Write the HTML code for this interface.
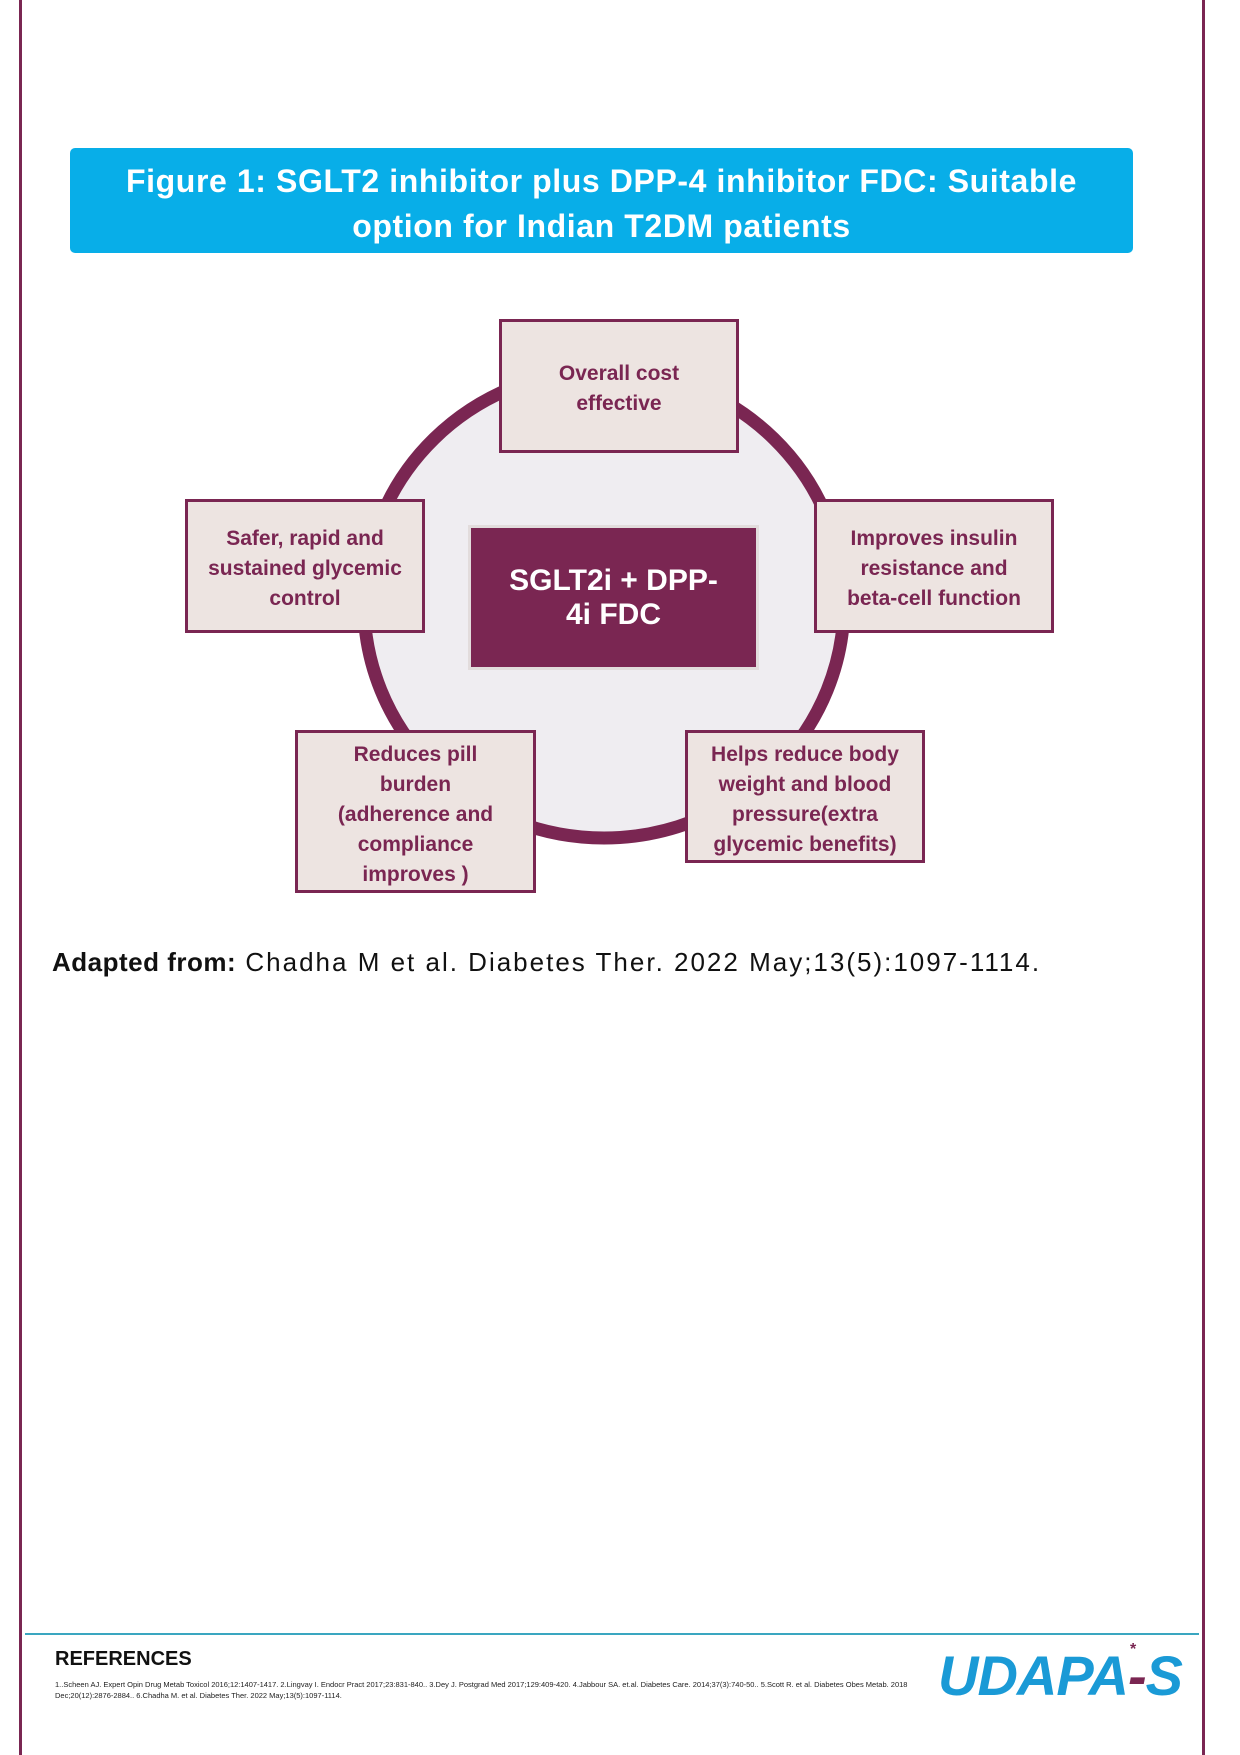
<!DOCTYPE html>
<html><head><meta charset="utf-8"><style>
body{margin:0;width:1240px;height:1755px;position:relative;background:#fff;font-family:"Liberation Sans",sans-serif;overflow:hidden}
.ab{position:absolute}
.box{position:absolute;box-sizing:border-box;background:#ede4e1;border:3px solid #7a2652;color:#7a2652;font-weight:bold;font-size:21px;line-height:30px;display:flex;align-items:center;justify-content:center;text-align:center;padding-top:6px}
</style></head><body>
<div class="ab" style="left:19px;top:0;width:3px;height:1755px;background:#7a2652"></div>
<div class="ab" style="left:1202px;top:0;width:3px;height:1755px;background:#7a2652"></div>
<div class="ab" style="left:70px;top:148px;width:1063px;height:105px;background:#08aee8;border-radius:5px;color:#fff;font-weight:bold;font-size:32px;line-height:45px;letter-spacing:0.6px;text-align:center;display:flex;align-items:center;justify-content:center;padding-top:6px;box-sizing:border-box">Figure 1: SGLT2 inhibitor plus DPP-4 inhibitor FDC: Suitable<br>option for Indian T2DM patients</div>
<svg class="ab" style="left:0;top:0" width="1240" height="1000"><ellipse cx="604" cy="604" rx="240" ry="234" fill="#efedf1" stroke="#7a2652" stroke-width="13"/></svg>
<div class="box" style="left:499px;top:319px;width:240px;height:134px">Overall cost<br>effective</div>
<div class="box" style="left:185px;top:499px;width:240px;height:134px">Safer, rapid and<br>sustained glycemic<br>control</div>
<div class="box" style="left:814px;top:499px;width:240px;height:134px">Improves insulin<br>resistance and<br>beta-cell function</div>
<div class="box" style="left:295px;top:730px;width:241px;height:163px">Reduces pill<br>burden<br>(adherence and<br>compliance<br>improves )</div>
<div class="box" style="left:685px;top:730px;width:240px;height:133px">Helps reduce body<br>weight and blood<br>pressure(extra<br>glycemic benefits)</div>
<div class="ab" style="left:468px;top:525px;width:291px;height:145px;box-sizing:border-box;border:3px solid #e2dcdc;background:#7a2652;color:#fff;font-weight:bold;font-size:30px;line-height:34px;display:flex;align-items:center;justify-content:center;text-align:center">SGLT2i + DPP-<br>4i FDC</div>
<div class="ab" style="left:52px;top:947px;font-size:26px;color:#111;white-space:nowrap;letter-spacing:2px"><b style="letter-spacing:0.5px">Adapted from:</b> Chadha M et al. Diabetes Ther. 2022 May;13(5):1097-1114.</div>
<div class="ab" style="left:25px;top:1633px;width:1174px;height:2px;background:#3aa6c0"></div>
<div class="ab" style="left:55px;top:1648px;font-size:20px;font-weight:bold;color:#111">REFERENCES</div>
<div class="ab" style="left:55px;top:1679px;width:860px;font-size:7.5px;line-height:11px;color:#222">1..Scheen AJ. Expert Opin Drug Metab Toxicol 2016;12:1407-1417. 2.Lingvay I. Endocr Pract 2017;23:831-840.. 3.Dey J. Postgrad Med 2017;129:409-420. 4.Jabbour SA. et.al. Diabetes Care. 2014;37(3):740-50.. 5.Scott R. et al. Diabetes Obes Metab. 2018 Dec;20(12):2876-2884.. 6.Chadha M. et al. Diabetes Ther. 2022 May;13(5):1097-1114.</div>
<div class="ab" style="left:938px;top:1643px;font-size:56px;font-weight:900;font-style:italic;white-space:nowrap;letter-spacing:-1px"><span style="color:#1a9ad6">UDAPA</span><span style="color:#7a2652">-</span><span style="color:#1a9ad6">S</span></div>
<div class="ab" style="left:1130px;top:1641px;font-size:16px;color:#7a2652;font-weight:bold">*</div>
</body></html>
